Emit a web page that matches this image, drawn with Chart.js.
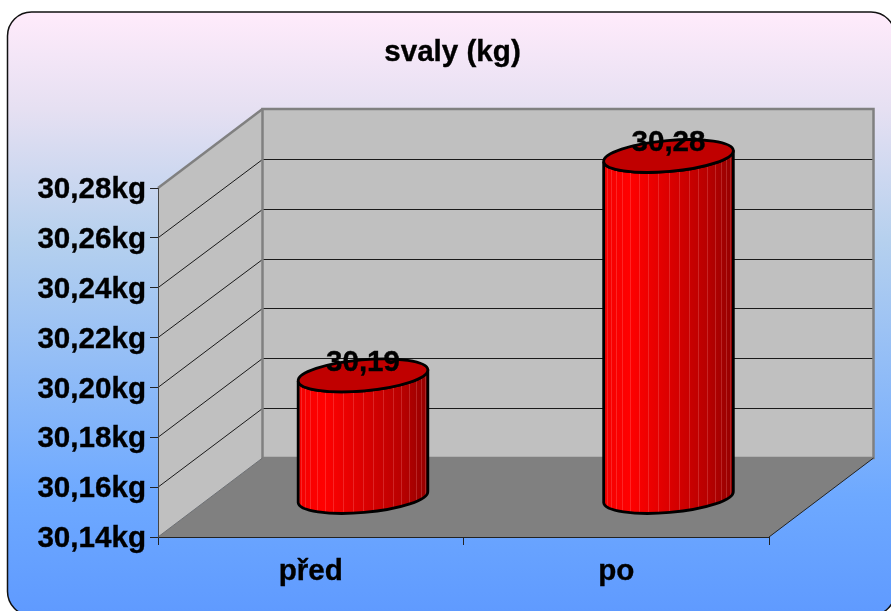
<!DOCTYPE html>
<html>
<head>
<meta charset="utf-8">
<title>svaly (kg)</title>
<script src="https://cdn.jsdelivr.net/npm/chart.js@4"></script>
<style>
  html, body { margin: 0; padding: 0; background: #fff; overflow: hidden; }
  canvas { display: block; }
</style>
</head>
<body>
<canvas id="chart" width="891" height="611"></canvas>
<script>
const categories = ['před', 'po'];
const values = [30.189, 30.277];
const yTicks = [30.14, 30.16, 30.18, 30.20, 30.22, 30.24, 30.26, 30.28];
const chartTitle = 'svaly (kg)';

const FONT = '"Liberation Sans", Arial, sans-serif';
const FONT_SIZE = 29.6;
const TEXT_STROKE = 0.35;
const DEPTH_X = 104.5;
const DEPTH_Y = -79;

function comma(v) {
  return v.toFixed(2).replace('.', ',');
}

function drawFrame(ctx) {
  const grad = ctx.createLinearGradient(0, 12, 0, 615);
  grad.addColorStop(0, '#ffebfb');
  grad.addColorStop(0.16, '#e6e0f2');
  grad.addColorStop(0.38, '#b5d0ee');
  grad.addColorStop(0.8, '#6ea9ff');
  grad.addColorStop(1, '#5f9aff');
  ctx.beginPath();
  ctx.roundRect(7.5, 12, 887.5, 603.5, 24);
  ctx.fillStyle = grad;
  ctx.fill();
  ctx.lineWidth = 1.5;
  ctx.strokeStyle = '#111';
  ctx.stroke();
}

function drawWalls(chart) {
  const ctx = chart.ctx;
  const x = chart.scales.x;
  const y = chart.scales.y;
  const l = x.left, r = x.right, t = y.top, b = y.bottom;
  const dx = DEPTH_X, dy = DEPTH_Y;

  ctx.save();
  // floor
  ctx.beginPath();
  ctx.moveTo(l, b);
  ctx.lineTo(l + dx, b + dy);
  ctx.lineTo(r + dx, b + dy);
  ctx.lineTo(r, b);
  ctx.closePath();
  ctx.fillStyle = '#808080';
  ctx.fill();

  // side wall
  ctx.beginPath();
  ctx.moveTo(l, t);
  ctx.lineTo(l + dx, t + dy);
  ctx.lineTo(l + dx, b + dy);
  ctx.lineTo(l, b);
  ctx.closePath();
  ctx.fillStyle = '#c0c0c0';
  ctx.fill();

  // back wall
  ctx.fillStyle = '#c0c0c0';
  ctx.fillRect(l + dx, t + dy, r - l, b - t);

  // grid lines on both walls
  ctx.lineWidth = 1;
  ctx.strokeStyle = '#1a1a1a';
  y.ticks.forEach(tick => {
    if (tick.value <= y.min + 1e-6 || tick.value >= y.max - 1e-6) return;
    const py = y.getPixelForValue(tick.value);
    const backY = Math.round(py + dy) + 0.5;
    ctx.beginPath();
    ctx.moveTo(l, py);
    ctx.lineTo(l + dx, backY);
    ctx.lineTo(r + dx, backY);
    ctx.stroke();
  });

  // wall borders
  ctx.lineWidth = 2.5;
  ctx.strokeStyle = '#808080';
  ctx.strokeRect(l + dx, t + dy, r - l, b - t);
  ctx.beginPath();
  ctx.moveTo(l, t);
  ctx.lineTo(l + dx, t + dy);
  ctx.stroke();
  ctx.lineWidth = 1;
  ctx.strokeStyle = '#707070';
  ctx.beginPath();
  ctx.moveTo(l, b);
  ctx.lineTo(l + dx, b + dy);
  ctx.stroke();
  ctx.strokeStyle = '#222';
  ctx.beginPath();
  ctx.moveTo(r, b);
  ctx.lineTo(r + dx, b + dy);
  ctx.stroke();
  ctx.restore();
}

function drawCylinder(ctx, bar) {
  const cx = bar.x + DEPTH_X / 2;
  const topY = bar.y + DEPTH_Y / 2;
  const baseY = bar.base + DEPTH_Y / 2;
  const a = bar.width / 2;
  const b = 15.5;
  const rot = -5 * Math.PI / 180;

  const body = new Path2D();
  body.ellipse(cx, baseY, a, b, rot, 0, Math.PI, false);
  body.ellipse(cx, topY, a, b, rot, Math.PI, 0, true);
  body.closePath();

  ctx.save();
  const grad = ctx.createLinearGradient(cx - a, 0, cx + a, 0);
  grad.addColorStop(0, '#f40000');
  grad.addColorStop(0.2, '#ff0000');
  grad.addColorStop(0.5, '#dc0000');
  grad.addColorStop(0.8, '#b80000');
  grad.addColorStop(1, '#940000');
  ctx.fillStyle = grad;
  ctx.fill(body);

  // thin facet lines
  ctx.save();
  ctx.clip(body);
  ctx.lineWidth = 1;
  ctx.strokeStyle = 'rgba(255, 170, 170, 0.22)';
  for (let i = 1; i < 20; i++) {
    const px = Math.round(cx - a * Math.cos(i * Math.PI / 20)) + 0.5;
    ctx.beginPath();
    ctx.moveTo(px, topY - 30);
    ctx.lineTo(px, baseY + 30);
    ctx.stroke();
  }
  ctx.restore();

  ctx.lineWidth = 2.8;
  ctx.strokeStyle = '#000';
  ctx.stroke(body);

  ctx.beginPath();
  ctx.ellipse(cx, topY, a, b, rot, 0, Math.PI * 2);
  ctx.fillStyle = '#c00000';
  ctx.fill();
  ctx.stroke();
  ctx.restore();
}

const scenePlugin = {
  id: 'scene',
  beforeDraw(chart) {
    drawFrame(chart.ctx);
    drawWalls(chart);
  },
  afterDatasetsDraw(chart) {
    const ctx = chart.ctx;
    const bars = chart.getDatasetMeta(0).data;
    bars.forEach(bar => drawCylinder(ctx, bar));

    ctx.save();
    ctx.fillStyle = '#000';
    ctx.strokeStyle = '#000';
    ctx.lineWidth = TEXT_STROKE;
    ctx.font = 'bold ' + FONT_SIZE + 'px ' + FONT;
    ctx.textAlign = 'center';
    ctx.textBaseline = 'middle';
    bars.forEach((bar, i) => {
      const tx = bar.x + DEPTH_X / 2;
      const ty = bar.y + DEPTH_Y / 2 - 13;
      ctx.fillText(comma(values[i]), tx, ty);
      ctx.strokeText(comma(values[i]), tx, ty);
    });
    ctx.fillText(chartTitle, 452.5, 53);
    ctx.strokeText(chartTitle, 452.5, 53);
    ctx.restore();
  }
};

new Chart(document.getElementById('chart'), {
  type: 'bar',
  data: {
    labels: categories,
    datasets: [{
      data: values,
      base: yTicks[0],
      backgroundColor: 'transparent',
      borderWidth: 0,
      categoryPercentage: 1,
      barPercentage: 0.426
    }]
  },
  options: {
    responsive: false,
    animation: false,
    layout: { padding: { top: 188, right: 122, left: 0, bottom: 0 } },
    plugins: {
      legend: { display: false },
      title: { display: false },
      tooltip: { enabled: false }
    },
    scales: {
      x: {
        afterFit: scale => { scale.height = 74; },
        border: { color: '#222', width: 1 },
        grid: { drawOnChartArea: false, color: '#222', tickLength: 8 },
        ticks: {
          color: '#000',
          padding: 9,
          maxRotation: 0,
          textStrokeColor: '#000',
          textStrokeWidth: TEXT_STROKE,
          font: { family: FONT, size: FONT_SIZE, weight: 'bold' }
        }
      },
      y: {
        min: yTicks[0],
        max: yTicks[yTicks.length - 1],
        afterFit: scale => { scale.width = 158; },
        afterBuildTicks: scale => { scale.ticks = yTicks.map(v => ({ value: v })); },
        border: { color: '#444', width: 1 },
        grid: { drawOnChartArea: false, color: '#222', tickLength: 8 },
        ticks: {
          color: '#000',
          padding: 4,
          autoSkip: false,
          labelOffset: 2,
          textStrokeColor: '#000',
          textStrokeWidth: TEXT_STROKE,
          callback: v => comma(v) + 'kg',
          font: { family: FONT, size: FONT_SIZE, weight: 'bold' }
        }
      }
    }
  },
  plugins: [scenePlugin]
});
</script>
</body>
</html>
